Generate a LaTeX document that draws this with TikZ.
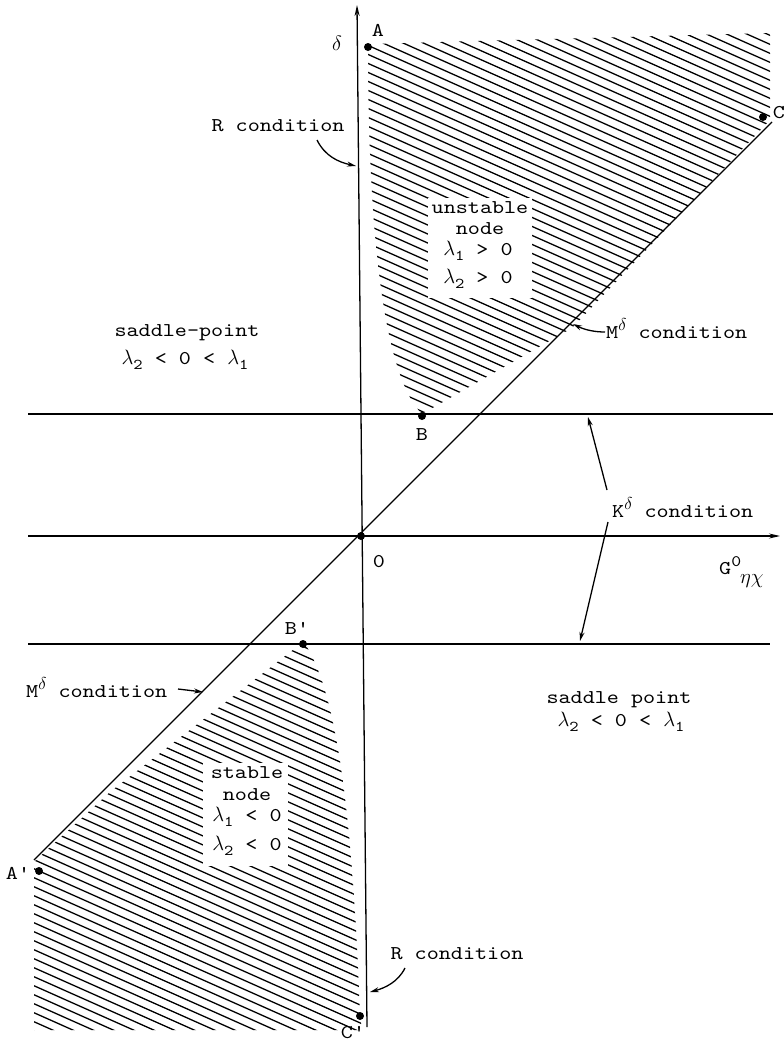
\documentclass[tikz,border=0pt]{standalone}
\usepackage{fontspec}
\setmonofont{lmmono10-regular.otf}[FakeStretch=1.18]
\usetikzlibrary{arrows.meta}
\newcommand\lsub[1]{\raisebox{-5pt}{\fontsize{15}{15}\selectfont #1}}
\newcommand\lsup[1]{\raisebox{8pt}{\fontsize{16}{16}\selectfont #1}}
\newcommand\lam{\ensuremath{\lambda}}
\begin{document}
\begin{tikzpicture}[x=1pt,y=-1pt,
  lbl/.style={font=\ttfamily\fontsize{19.5}{24}\selectfont, inner sep=0pt},
  axis/.style={line width=1.3pt},
  hatchline/.style={line width=1.3pt},
  ptr/.style={line width=1.3pt,-{Stealth[length=9pt,width=5pt]}},
  axarrow/.style={line width=1.3pt,-{Stealth[length=11pt,width=5pt]}},
  pt/.style={circle,fill=black,inner sep=0pt,minimum size=8pt}]
\useasboundingbox (0,0) rectangle (784,1042);
% hatching, upper region
\begin{scope}
\clip (368,44) -- (770,33) -- (770,120) -- (572,328) -- (422,414)
  .. controls (388,380) and (368,260) .. (368,44) -- cycle;
\foreach \i in {-45,...,120} \draw[hatchline] (0,\i*9+7.6) -- ++(820,365);
\end{scope}
% hatching, lower region
\begin{scope}
\clip (298,646) -- (110,792) -- (34,862) -- (34,1030) -- (362,1030) -- (360,1016)
  .. controls (352,800) and (335,690) .. (305,644) -- cycle;
\foreach \i in {-45,...,120} \draw[hatchline] (0,\i*9+7.6) -- ++(820,365);
\end{scope}
\fill[white] (428,198) rectangle (532,298);
\fill[white] (203,763) rectangle (288,866);
% axes and lines
\coordinate (vb) at (367,1027);
\coordinate (vt) at (357,5);
\coordinate (hl) at (28,536);
\coordinate (hr) at (780,536);
\coordinate (ul) at (28,414);
\coordinate (ur) at (773,414);
\coordinate (ll) at (28,644);
\coordinate (lr) at (770,644);
\coordinate (dl) at (34,860);
\coordinate (dr) at (772,122);
\draw[axarrow] (vb) -- (vt);
\draw[axarrow] (hl) -- (hr);
\draw[axis] (ul) -- (ur);
\draw[axis] (ll) -- (lr);
\draw[axis] (dl) -- (dr);
% points
\node[pt] (A) at (368,47) {};
\node[pt] (C) at (763,117) {};
\node[pt] (B) at (422,416) {};
\node[pt] (O) at (361,536) {};
\node[pt] (Bp) at (303,644) {};
\node[pt] (Ap) at (39,871) {};
\node[pt] (Cp) at (360,1016) {};
% point labels
\node[lbl] (lA) at (378,30) {A};
\node[lbl] (lC) at (779,113) {C};
\node[lbl] (lB) at (422,435) {B};
\node[lbl] (lO) at (379,562) {0};
\node[lbl] (lBp) at (297,628) {B'};
\node[lbl] (lAp) at (18,873) {A'};
\node[lbl] (lCp) at (353,1033) {C'};
\node[lbl] (ldelta) at (337,43) {$\delta$};
\node[lbl,anchor=west] (lG) at (719,572) {G\lsup{0}\hspace{-1pt}\raisebox{-9pt}{$\eta\chi$}};
% region texts
\node[lbl] (Rtop) at (278,126) {R condition};
\node[lbl] (sp1) at (187,333) {saddle-point};
\node[lbl] (sp1l) at (185,360) {\lam\lsub{2} < 0 < \lam\lsub{1}};
\node[lbl] (un1) at (480,208) {unstable};
\node[lbl] (un2) at (480,229) {node};
\node[lbl] (un3) at (478,251) {\lam\lsub{1} > 0};
\node[lbl] (un4) at (478,279) {\lam\lsub{2} > 0};
\node[lbl,anchor=west] (Mr) at (606,329) {M\lsup{$\delta$} condition};
\node[lbl,anchor=west] (Kd) at (612,508) {K\lsup{$\delta$} condition};
\node[lbl,anchor=west] (Ml) at (26,688) {M\lsup{$\delta$} condition};
\node[lbl] (st1) at (247,773) {stable};
\node[lbl] (st2) at (247,795) {node};
\node[lbl] (st3) at (247,817) {\lam\lsub{1} < 0};
\node[lbl] (st4) at (247,846) {\lam\lsub{2} < 0};
\node[lbl] (sp2) at (619,700) {saddle point};
\node[lbl] (sp2l) at (621,722) {\lam\lsub{2} < 0 < \lam\lsub{1}};
\node[lbl] (Rbot) at (457,954) {R condition};
% pointers
\coordinate (rt0) at (317,140);
\coordinate (rt1) at (356,166);
\draw[ptr] (rt0) .. controls (325,156) and (338,162) .. (rt1);
\coordinate (rb0) at (405,968);
\coordinate (rb1) at (370,992);
\draw[ptr] (rb0) .. controls (398,982) and (385,988) .. (rb1);
\coordinate (mr0) at (605,332);
\coordinate (mr1) at (573,324);
\draw[ptr] (mr0) .. controls (595,332) and (585,330) .. (mr1);
\coordinate (ml0) at (178,689);
\coordinate (ml1) at (203,692);
\draw[ptr] (ml0) -- (ml1);
\coordinate (ku0) at (607,490);
\coordinate (ku1) at (588,417);
\coordinate (kd0) at (608,522);
\coordinate (kd1) at (580,641);
\draw[ptr] (ku0) -- (ku1);
\draw[ptr] (kd0) -- (kd1);
\end{tikzpicture}
\end{document}
